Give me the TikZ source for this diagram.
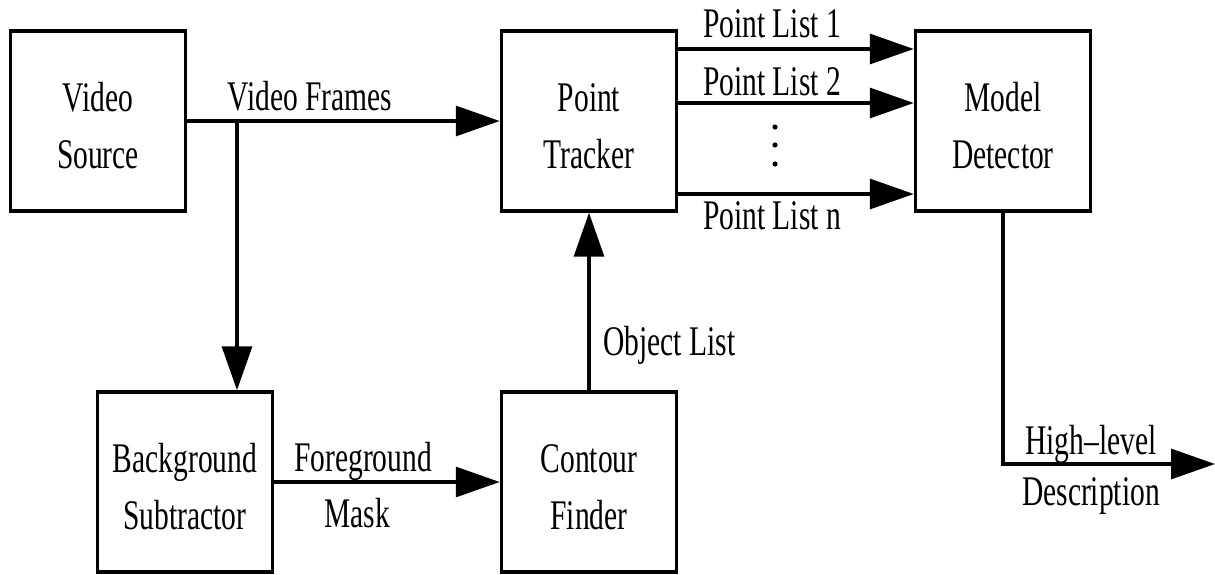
\documentclass[tikz,border=0pt]{standalone}
\usepackage{fontspec}
\setmainfont{Liberation Serif}[FakeStretch=0.70]
\usepackage{tikz}
\usetikzlibrary{arrows.meta,calc}
\tikzset{
  block/.style={
    rectangle,
    draw=black,
    line width=2pt,
    minimum width=3.5cm,
    minimum height=3.6cm,
    align=center,
    text height=54.5pt,
    font=\fontsize{24}{32.5}\selectfont
  },
  lbl/.style={
    anchor=base,
    inner sep=0pt,
    font=\fontsize{24}{32}\selectfont
  },
  arrow/.style={
    -{Triangle[length=25pt,width=17pt]},
    line width=2pt
  }
}

\begin{document}
\begin{tikzpicture}[x=0.02cm, y=-0.02cm]
  \useasboundingbox (0,0) rectangle (1215,575);

  % Blocks
  \node[block] (src) at (98,121) {Video\\Source};
  \node[block] (trk) at (589,121) {Point\\Tracker};
  \node[block] (det) at (1003,121) {Model\\Detector};
  \node[block] (bgs) at (185,482) {Background\\Subtractor};
  \node[block] (cnt) at (589,482) {Contour\\Finder};

  % Video frames and branch
  \draw[arrow] (src) -- (trk);
  \coordinate (branch) at (237,121);
  \draw[arrow] (branch) -- (branch |- bgs.north);
  \node[lbl] (vf) at (310,110) {Video Frames};

  % Point lists
  \draw[arrow] (trk.east |- 0,49) -- (det.west |- 0,49);
  \draw[arrow] (trk.east |- 0,103) -- (det.west |- 0,103);
  \draw[arrow] (trk.east |- 0,194) -- (det.west |- 0,194);
  \node[lbl] (pl1) at (772,37) {Point List 1};
  \node[lbl] (pl2) at (772,95) {Point List 2};
  \foreach \y in {127,145,164}
    \fill (775,\y) circle (2.6);
  \node[lbl] (pln) at (772,229) {Point List n};

  % Object list
  \draw[arrow] (cnt) -- (trk);
  \node[lbl, anchor=base west] (ol) at (603,355) {Object List};

  % Foreground mask
  \draw[arrow] (bgs) -- (cnt);
  \node[lbl] (fg) at (363,471) {Foreground};
  \node[lbl] (mk) at (357,527) {Mask};

  % Output
  \coordinate (out) at (1215,464);
  \draw[arrow] (det.south) |- (out);
  \node[lbl] (hl) at (1091,454) {High--level};
  \node[lbl] (ds) at (1091,505) {Description};
\end{tikzpicture}
\end{document}
